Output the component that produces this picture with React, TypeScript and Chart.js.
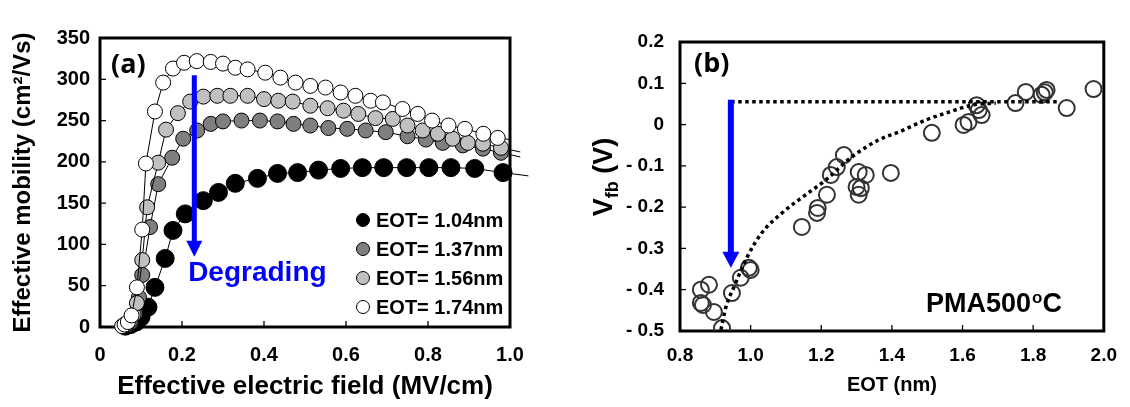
import React, { useEffect, useRef } from 'react';
import { Chart, registerables } from 'chart.js';

Chart.register(...registerables);

const SANS = '"Liberation Sans", Arial, Helvetica, sans-serif';
const ROUND = '"Open Sans", "Noto Sans", sans-serif';

// ---------------- Panel (a): effective mobility vs effective field ----------------
const A_LABELS = ['EOT= 1.04nm', 'EOT= 1.37nm', 'EOT= 1.56nm', 'EOT= 1.74nm'];

const FIELD_104 = [0.062, 0.075, 0.088, 0.1, 0.117, 0.134, 0.159, 0.178, 0.208, 0.252, 0.289, 0.33, 0.384, 0.433, 0.482, 0.533, 0.587, 0.64, 0.692, 0.748, 0.802, 0.856, 0.914, 0.983];
const MOB_104 = [1, 3, 6, 12, 24, 48, 83, 117, 137, 153, 163, 174, 180, 186, 187, 190, 192, 193, 193, 193, 193, 193, 192, 187];

const FIELD_137 = [0.058, 0.066, 0.076, 0.086, 0.095, 0.103, 0.122, 0.142, 0.176, 0.203, 0.237, 0.27, 0.30, 0.345, 0.39, 0.433, 0.472, 0.513, 0.557, 0.603, 0.648, 0.697, 0.75, 0.795, 0.836, 0.885, 0.934, 0.978];
const MOB_137 = [1, 2, 6, 16, 36, 63, 121, 173, 205, 228, 238, 246, 249, 250, 250, 249, 246, 244, 241, 240, 238, 236, 231, 227, 223, 220, 216, 211];

const FIELD_156 = [0.056, 0.064, 0.073, 0.082, 0.09, 0.103, 0.115, 0.142, 0.161, 0.19, 0.22, 0.252, 0.286, 0.318, 0.36, 0.40, 0.435, 0.47, 0.513, 0.555, 0.594, 0.63, 0.672, 0.714, 0.75, 0.787, 0.824, 0.86, 0.897, 0.934, 0.978];
const MOB_156 = [1, 3, 7, 15, 29, 81, 145, 199, 239, 259, 273, 279, 280, 280, 280, 276, 274, 273, 268, 265, 262, 258, 253, 252, 244, 238, 234, 228, 223, 222, 217];

const FIELD_174 = [0.054, 0.06, 0.068, 0.077, 0.09, 0.103, 0.112, 0.134, 0.154, 0.178, 0.205, 0.236, 0.27, 0.30, 0.33, 0.36, 0.403, 0.44, 0.477, 0.513, 0.55, 0.587, 0.623, 0.66, 0.69, 0.738, 0.775, 0.81, 0.85, 0.89, 0.935, 0.97];
const MOB_174 = [1, 3, 6, 14, 48, 118, 198, 261, 296, 313, 320, 322, 321, 319, 314, 312, 308, 302, 296, 292, 290, 284, 280, 274, 272, 264, 258, 250, 244, 240, 234, 229];

// where each connecting line ends beyond its last marker
const TAIL_FIELD = [1.045, 1.025, 1.025, 1.0];
const TAIL_MOB = [183, 206, 212, 227];

const A_X_TICKS = [0, 0.2, 0.4, 0.6, 0.8, 1.0];
const A_X_LABELS = ['0', '0.2', '0.4', '0.6', '0.8', '1.0'];
const A_Y_TICKS = [0, 50, 100, 150, 200, 250, 300, 350];
const A_Y_LABELS = ['0', '50', '100', '150', '200', '250', '300', '350'];

// ---------------- Panel (b): Vfb vs EOT ----------------
const EOT_PTS = [0.859, 0.882, 0.859, 0.865, 0.896, 0.919, 0.947, 0.972, 0.995, 1.0, 1.145, 1.188, 1.19, 1.216, 1.227, 1.244, 1.264, 1.306, 1.326, 1.3, 1.312, 1.306, 1.397, 1.513, 1.603, 1.617, 1.654, 1.646, 1.64, 1.75, 1.779, 1.824, 1.838, 1.833, 1.895, 1.971];
const VFB_PTS = [-0.4, -0.388, -0.432, -0.437, -0.454, -0.493, -0.408, -0.371, -0.347, -0.352, -0.248, -0.214, -0.202, -0.17, -0.122, -0.103, -0.074, -0.115, -0.122, -0.151, -0.154, -0.17, -0.117, -0.02, -0.001, 0.006, 0.023, 0.035, 0.047, 0.052, 0.079, 0.072, 0.084, 0.078, 0.04, 0.086];

const CURVE_EOT = [0.916, 0.93, 0.953, 0.99, 1.032, 1.089, 1.156, 1.213, 1.287, 1.363, 1.42, 1.496, 1.561, 1.626, 1.694];
const CURVE_VFB = [-0.497, -0.442, -0.393, -0.321, -0.262, -0.214, -0.17, -0.134, -0.078, -0.037, -0.018, 0.011, 0.03, 0.047, 0.052];

const LEVEL_EOT = [0.945, 1.87];
const LEVEL_VFB = [0.055, 0.055];

const B_X_TICKS = [0.8, 1.0, 1.2, 1.4, 1.6, 1.8, 2.0];
const B_X_LABELS = ['0.8', '1.0', '1.2', '1.4', '1.6', '1.8', '2.0'];
const B_Y_TICKS = [-0.5, -0.4, -0.3, -0.2, -0.1, 0, 0.1, 0.2];
const B_Y_LABELS = ['- 0.5', '- 0.4', '- 0.3', '- 0.2', '- 0.1', '0', '0.1', '0.2'];

// annotation anchors (data units)
const ARROW_A = { x: 0.23, from: 305, to: 85 };
const DEGRADING_AT = { x: 0.215, y: 65 };
const ARROW_B = { x: 0.944, from: 0.06, to: -0.347 };

const zip = (xs: number[], ys: number[]) => xs.map((x, i) => ({ x, y: ys[i] }));

function drawFrame(chart: any, tickLen: number) {
  const { ctx, chartArea: a, scales } = chart;
  ctx.save();
  ctx.strokeStyle = '#000';
  ctx.lineWidth = 3;
  ctx.strokeRect(a.left, a.top, a.right - a.left, a.bottom - a.top);
  ctx.lineWidth = 1.3;
  ctx.beginPath();
  scales.x.ticks.forEach((t: any) => {
    const px = scales.x.getPixelForValue(t.value);
    if (px > a.left + 3 && px < a.right - 3) {
      ctx.moveTo(px, a.bottom);
      ctx.lineTo(px, a.bottom - tickLen);
    }
  });
  scales.y.ticks.forEach((t: any) => {
    const py = scales.y.getPixelForValue(t.value);
    if (py > a.top + 3 && py < a.bottom - 3) {
      ctx.moveTo(a.left, py);
      ctx.lineTo(a.left + tickLen, py);
    }
  });
  ctx.stroke();
  ctx.restore();
}

function drawArrow(ctx: CanvasRenderingContext2D, x: number, y1: number, y2: number, lw: number, hw: number, hh: number) {
  ctx.save();
  ctx.fillStyle = '#0000ff';
  ctx.strokeStyle = '#0000ff';
  ctx.lineWidth = lw;
  ctx.beginPath();
  ctx.moveTo(x, y1);
  ctx.lineTo(x, y2 - hh + 1);
  ctx.stroke();
  ctx.beginPath();
  ctx.moveTo(x - hw / 2, y2 - hh);
  ctx.lineTo(x + hw / 2, y2 - hh);
  ctx.lineTo(x, y2);
  ctx.closePath();
  ctx.fill();
  ctx.restore();
}

const panelAPlugin = {
  id: 'panelA',
  beforeDatasetsDraw(chart: any) {
    drawFrame(chart, 6);
  },
  afterDatasetsDraw(chart: any) {
    const { ctx, chartArea: a, scales } = chart;
    const sx = scales.x, sy = scales.y;
    drawArrow(ctx, sx.getPixelForValue(ARROW_A.x), sy.getPixelForValue(ARROW_A.from), sy.getPixelForValue(ARROW_A.to), 5, 16, 16);
    ctx.save();
    ctx.fillStyle = '#0000ff';
    ctx.font = `bold 28px ${SANS}`;
    ctx.textAlign = 'left';
    ctx.textBaseline = 'middle';
    ctx.fillText('Degrading', sx.getPixelForValue(DEGRADING_AT.x), sy.getPixelForValue(DEGRADING_AT.y));
    ctx.fillStyle = '#000';
    ctx.font = `bold 27px ${ROUND}`;
    ctx.fillText('(a)', a.left + 11, a.top + 27);
    // legend
    ctx.font = `bold 20px ${SANS}`;
    const ds = chart.data.datasets;
    const lx = a.right - 147;
    for (let i = 0; i < A_LABELS.length; i++) {
      const ly = a.top + 182 + i * 29;
      ctx.beginPath();
      ctx.arc(lx, ly, 6.5, 0, Math.PI * 2);
      ctx.fillStyle = ds[i].backgroundColor;
      ctx.fill();
      ctx.lineWidth = 1;
      ctx.strokeStyle = '#000';
      ctx.stroke();
      ctx.fillStyle = '#000';
      ctx.fillText(A_LABELS[i], lx + 13, ly + 1);
    }
    ctx.restore();
  },
};

const panelBPlugin = {
  id: 'panelB',
  beforeDatasetsDraw(chart: any) {
    drawFrame(chart, 6);
  },
  afterDatasetsDraw(chart: any) {
    const { ctx, chartArea: a, scales } = chart;
    const sx = scales.x, sy = scales.y;
    drawArrow(ctx, sx.getPixelForValue(ARROW_B.x), sy.getPixelForValue(ARROW_B.from), sy.getPixelForValue(ARROW_B.to), 6, 17, 16);
    ctx.save();
    ctx.fillStyle = '#000';
    ctx.textAlign = 'left';
    ctx.textBaseline = 'middle';
    ctx.font = `bold 27px ${ROUND}`;
    ctx.fillText('(b)', a.left + 14, a.top + 22);
    // PMA500oC
    let x = a.left + 246;
    const y = a.top + 263;
    ctx.font = `bold 27px ${SANS}`;
    ctx.fillText('PMA500', x, y);
    x += ctx.measureText('PMA500').width;
    ctx.font = `bold 17px ${SANS}`;
    ctx.fillText('o', x + 1, y - 7);
    x += ctx.measureText('o').width + 1;
    ctx.font = `bold 27px ${SANS}`;
    ctx.fillText('C', x, y);
    ctx.restore();

    // y-axis title  V_fb (V)
    ctx.save();
    ctx.fillStyle = '#000';
    ctx.textBaseline = 'alphabetic';
    ctx.textAlign = 'left';
    const big = `bold 27px ${SANS}`;
    const small = `bold 18px ${SANS}`;
    ctx.font = big;
    const wV = ctx.measureText('V').width;
    const wP = ctx.measureText(' (V)').width;
    ctx.font = small;
    const wS = ctx.measureText('fb').width;
    const total = wV + wS + wP;
    ctx.translate(a.left - 68, 177);
    ctx.rotate(-Math.PI / 2);
    let t = -total / 2;
    ctx.font = big;
    ctx.fillText('V', t, 0);
    t += wV;
    ctx.font = small;
    ctx.fillText('fb', t, 6);
    t += wS;
    ctx.font = big;
    ctx.fillText(' (V)', t, 0);
    ctx.restore();
  },
};

export default function App() {
  const refA = useRef<HTMLCanvasElement>(null);
  const refB = useRef<HTMLCanvasElement>(null);

  useEffect(() => {
    document.body.style.margin = '0';
    const tickFontA = { family: SANS, size: 20, weight: 'bold' as const };
    const tickFontB = { family: SANS, size: 19, weight: 'bold' as const };
    const fills = ['#000000', '#7f7f7f', '#c0c0c0', '#ffffff'];
    const radii = [9, 7.5, 7.5, 7.5];
    const fields = [FIELD_104, FIELD_137, FIELD_156, FIELD_174];
    const mobs = [MOB_104, MOB_137, MOB_156, MOB_174];

    const datasetsA = A_LABELS.map((label, i) => {
      const pts = zip(fields[i], mobs[i]);
      const n = pts.length;
      pts.push({ x: TAIL_FIELD[i], y: TAIL_MOB[i] });
      return {
        label,
        data: pts,
        showLine: true,
        borderColor: '#000',
        borderWidth: 1,
        backgroundColor: fills[i],
        pointBackgroundColor: fills[i],
        pointBorderColor: '#000',
        pointBorderWidth: 1,
        pointRadius: (c: any) => (c.dataIndex === n ? 0 : radii[i]),
        order: 4 - i,
        clip: false as any,
      };
    });

    const chartA = new Chart(refA.current!, {
      type: 'scatter',
      data: { datasets: datasetsA as any },
      options: {
        responsive: false,
        animation: false,
        events: [],
        layout: { padding: { left: 0, top: 38, right: 50, bottom: 0 } },
        plugins: { legend: { display: false }, tooltip: { enabled: false } },
        scales: {
          x: {
            type: 'linear',
            min: 0,
            max: 1,
            afterFit: (s: any) => { s.height = 80; },
            afterBuildTicks: (s: any) => { s.ticks = A_X_TICKS.map((v) => ({ value: v })); },
            grid: { display: false, drawTicks: false },
            border: { display: false },
            ticks: { font: tickFontA, color: '#000', padding: 16, maxRotation: 0, callback: (_v: any, i: number) => A_X_LABELS[i] },
            title: { display: true, text: 'Effective electric field (MV/cm)', color: '#000', font: { family: SANS, size: 26, weight: 'bold' }, padding: { top: 0, bottom: 5 } },
          },
          y: {
            type: 'linear',
            min: 0,
            max: 350,
            afterFit: (s: any) => { s.width = 100; },
            afterBuildTicks: (s: any) => { s.ticks = A_Y_TICKS.map((v) => ({ value: v })); },
            grid: { display: false, drawTicks: false },
            border: { display: false },
            ticks: { font: tickFontA, color: '#000', padding: 10, callback: (_v: any, i: number) => A_Y_LABELS[i] },
            title: { display: true, text: 'Effective mobility (cm²/Vs)', color: '#000', font: { family: SANS, size: 24, weight: 'bold' }, padding: { top: 9, bottom: 0 } },
          },
        },
      },
      plugins: [panelAPlugin],
    });

    const chartB = new Chart(refB.current!, {
      type: 'scatter',
      data: {
        datasets: [
          {
            label: 'fit',
            data: zip(CURVE_EOT, CURVE_VFB),
            showLine: true,
            borderColor: '#000',
            borderWidth: 3.5,
            borderDash: [3.5, 3.5],
            cubicInterpolationMode: 'monotone',
            pointRadius: 0,
          },
          {
            label: 'level',
            data: zip(LEVEL_EOT, LEVEL_VFB),
            showLine: true,
            borderColor: '#000',
            borderWidth: 3.5,
            borderDash: [3.5, 3.5],
            pointRadius: 0,
          },
          {
            label: 'Vfb',
            data: zip(EOT_PTS, VFB_PTS),
            showLine: false,
            pointRadius: 8,
            pointBorderWidth: 2,
            pointBorderColor: '#333',
            pointBackgroundColor: 'rgba(0,0,0,0)',
          },
        ] as any,
      },
      options: {
        responsive: false,
        animation: false,
        events: [],
        layout: { padding: { left: 0, top: 42, right: 25, bottom: 0 } },
        plugins: { legend: { display: false }, tooltip: { enabled: false } },
        scales: {
          x: {
            type: 'linear',
            min: 0.8,
            max: 2.0,
            afterFit: (s: any) => { s.height = 76; },
            afterBuildTicks: (s: any) => { s.ticks = B_X_TICKS.map((v) => ({ value: v })); },
            grid: { display: false, drawTicks: false },
            border: { display: false },
            ticks: { font: tickFontB, color: '#000', padding: 13, maxRotation: 0, callback: (_v: any, i: number) => B_X_LABELS[i] },
            title: { display: true, text: 'EOT (nm)', color: '#000', font: { family: SANS, size: 20, weight: 'bold' }, padding: { top: 0, bottom: 10 } },
          },
          y: {
            type: 'linear',
            min: -0.5,
            max: 0.2,
            afterFit: (s: any) => { s.width = 120; },
            afterBuildTicks: (s: any) => { s.ticks = B_Y_TICKS.map((v) => ({ value: v })); },
            grid: { display: false, drawTicks: false },
            border: { display: false },
            ticks: { font: tickFontB, color: '#000', padding: 16, callback: (_v: any, i: number) => B_Y_LABELS[i] },
          },
        },
      },
      plugins: [panelBPlugin],
    });

    return () => {
      chartA.destroy();
      chartB.destroy();
    };
  }, []);

  return (
    <div style={{ position: 'relative', width: 1130, height: 407, background: '#fff' }}>
      <canvas ref={refA} width={560} height={407} style={{ position: 'absolute', left: 0, top: 0, width: 560, height: 407 }} />
      <canvas ref={refB} width={570} height={407} style={{ position: 'absolute', left: 560, top: 0, width: 570, height: 407 }} />
    </div>
  );
}
